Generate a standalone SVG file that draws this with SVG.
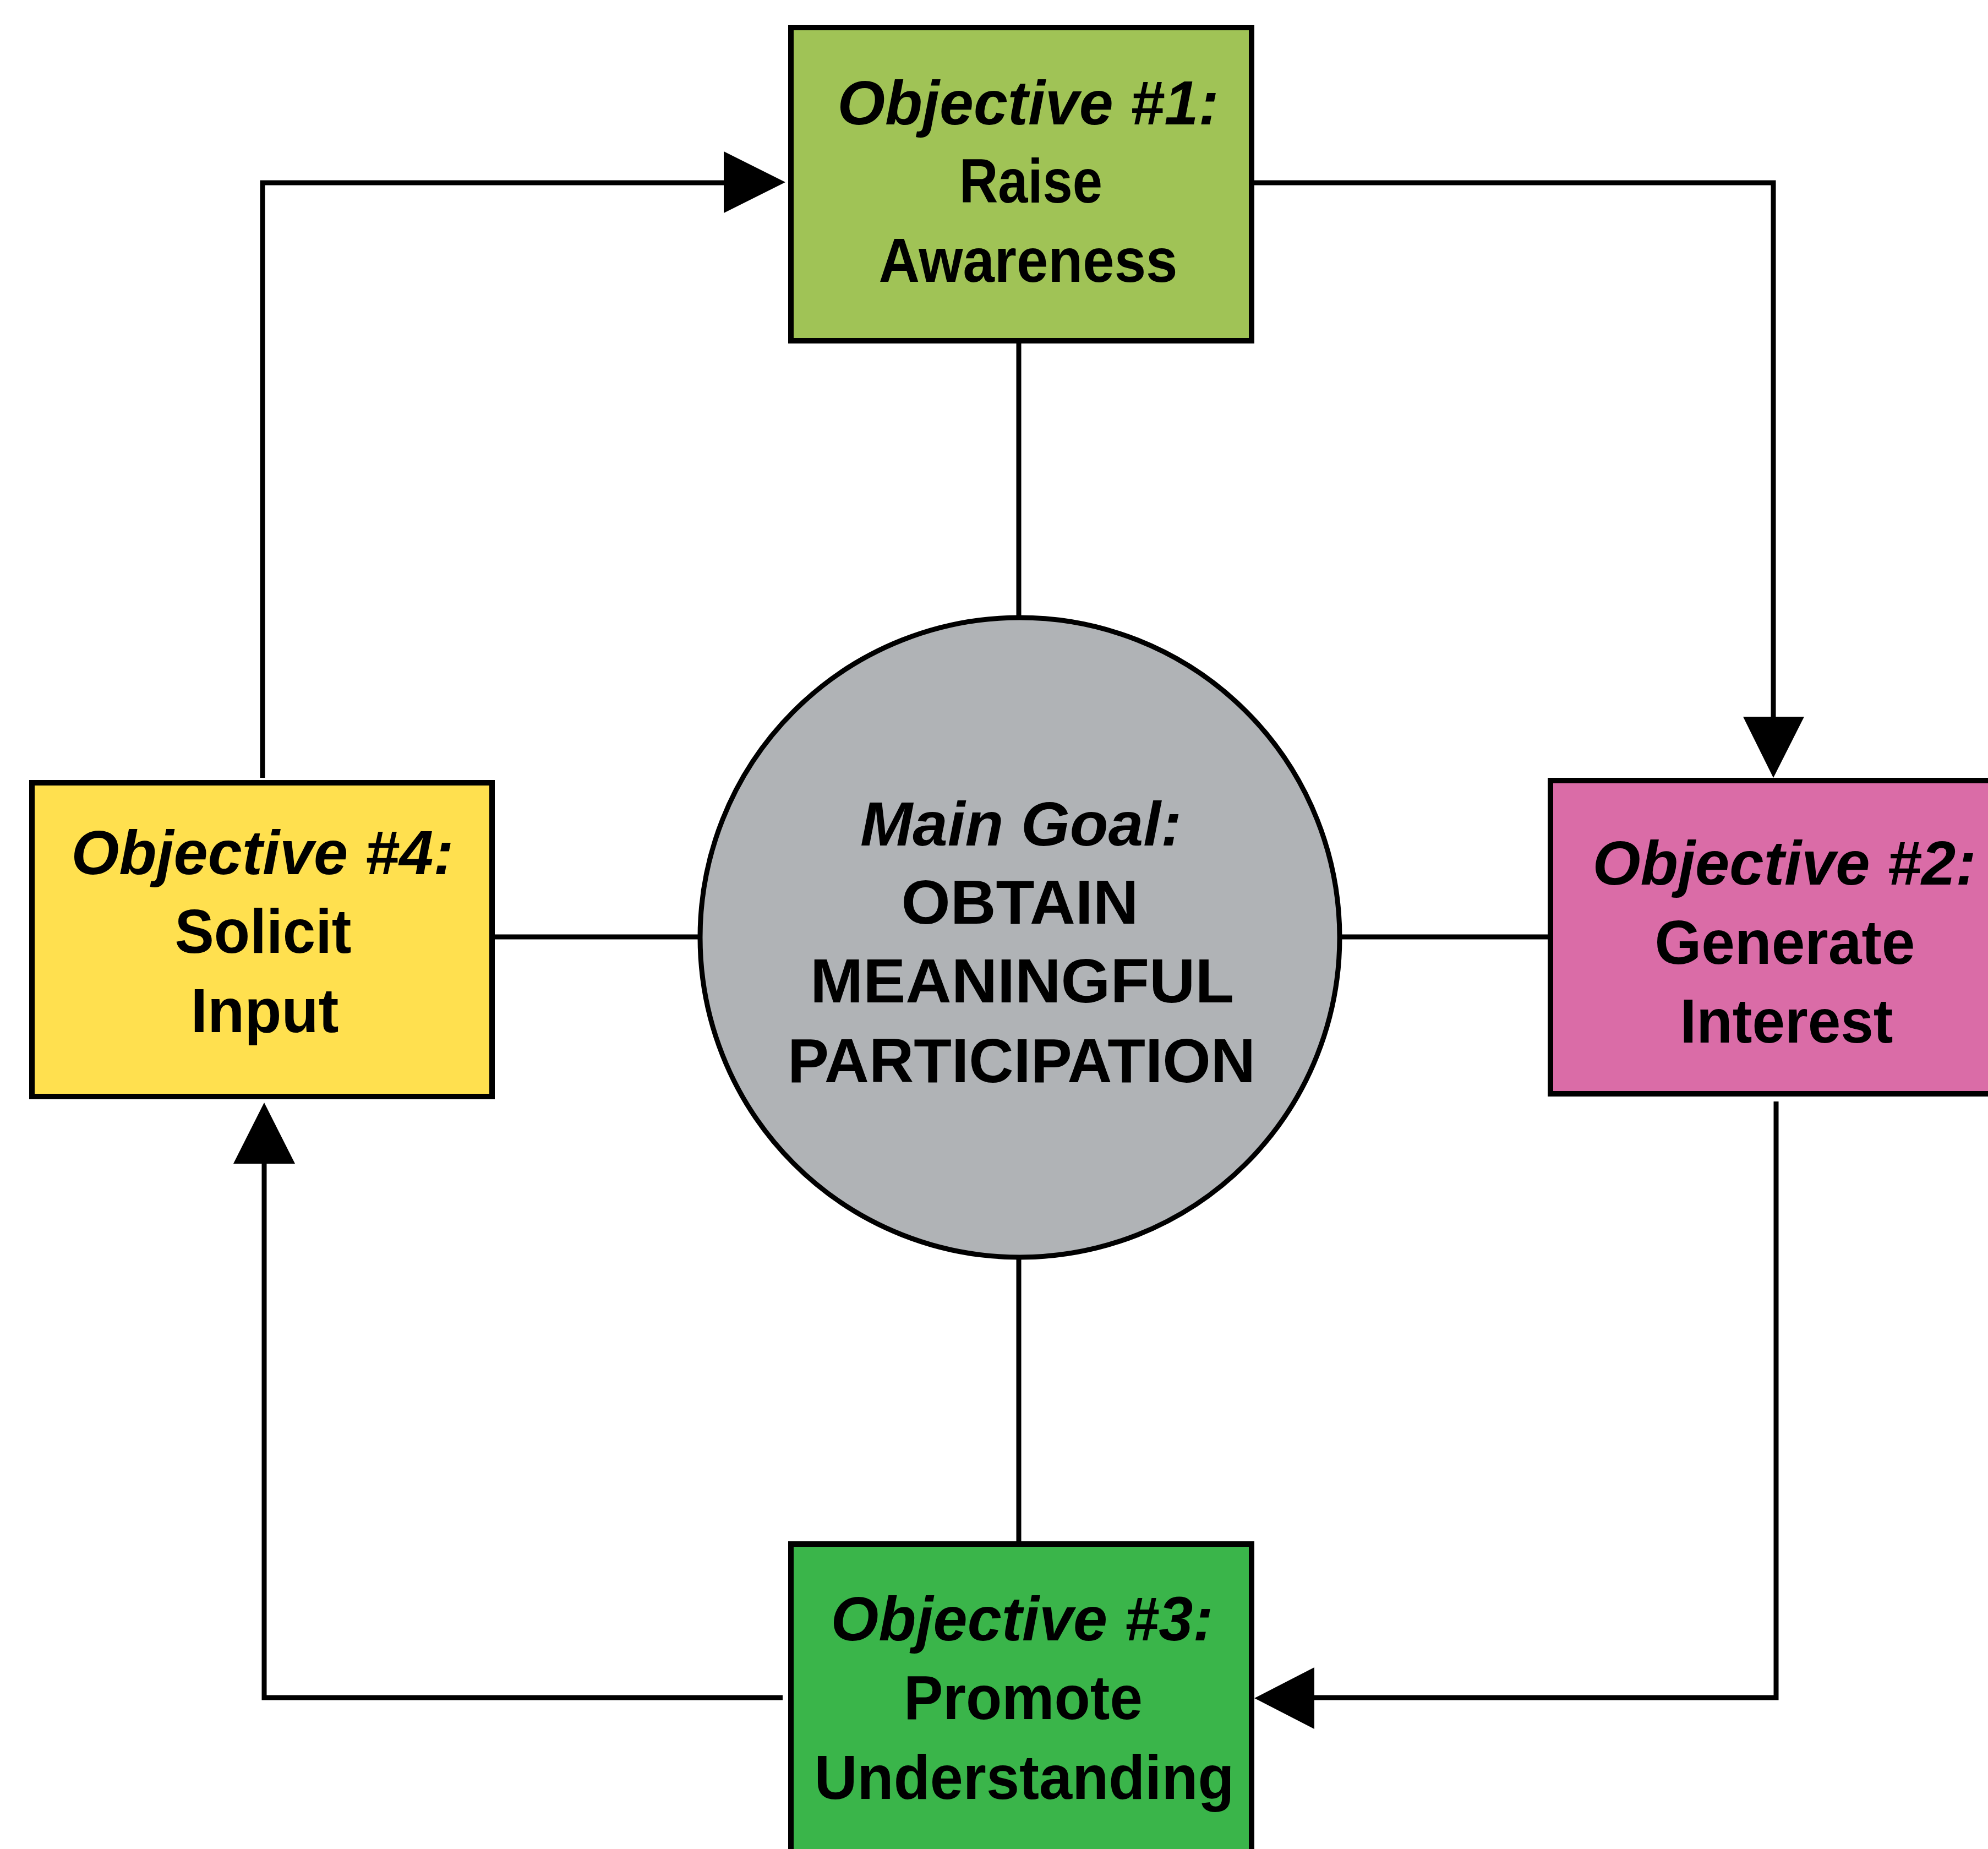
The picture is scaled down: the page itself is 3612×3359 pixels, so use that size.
<svg xmlns="http://www.w3.org/2000/svg" width="3612" height="3359" viewBox="0 0 3612 3359">
<style>
.box{stroke:#000;stroke-width:10}
.goal{fill:#B0B3B6;stroke:#000;stroke-width:9}
.line{fill:none;stroke:#000;stroke-width:9;stroke-linecap:butt}
.head{fill:#000}
text{font-family:"Liberation Sans",Arial,sans-serif;font-size:114px;font-weight:bold;fill:#000;text-anchor:middle}
.it{font-style:italic}
</style>
<rect width="3612" height="3359" fill="#fff"/>
<g id="connectors">
<path class="line" d="M477,1413 V332 H1318"/>
<polygon class="head" points="1315,275 1427,331 1315,387"/>
<path class="line" d="M2279,332 H3222 V1305"/>
<polygon class="head" points="3167,1302 3278,1302 3222,1413"/>
<path class="line" d="M3227,2001 V3084 H2385"/>
<polygon class="head" points="2388,3029 2279,3085 2388,3141"/>
<path class="line" d="M1422,3084 H480 V2111"/>
<polygon class="head" points="424,2114 536,2114 480,2003"/>
<path class="line" d="M1851,624 V1122"/>
<path class="line" d="M899,1702 H1273"/>
<path class="line" d="M2433,1702 H2813"/>
<path class="line" d="M1851,2284 V2800"/>
</g>
<g id="objective1">
<rect class="box" x="1437" y="50" width="837" height="569" fill="#A0C356"/>
<text class="it" x="1868" y="226" textLength="693" lengthAdjust="spacingAndGlyphs">Objective #1:</text>
<text x="1873" y="368" textLength="260" lengthAdjust="spacingAndGlyphs">Raise</text>
<text x="1868" y="512" textLength="543" lengthAdjust="spacingAndGlyphs">Awareness</text>
</g>
<g id="objective2">
<rect class="box" x="2817" y="1418" width="837" height="569" fill="#DA6CA7"/>
<text class="it" x="3242" y="1607" textLength="697" lengthAdjust="spacingAndGlyphs">Objective #2:</text>
<text x="3243" y="1751" textLength="473" lengthAdjust="spacingAndGlyphs">Generate</text>
<text x="3246" y="1894" textLength="387" lengthAdjust="spacingAndGlyphs">Interest</text>
</g>
<g id="objective3">
<rect class="box" x="1437" y="2805" width="837" height="569" fill="#3AB54A"/>
<text class="it" x="1857" y="2980" textLength="695" lengthAdjust="spacingAndGlyphs">Objective #3:</text>
<text x="1859" y="3123" textLength="434" lengthAdjust="spacingAndGlyphs">Promote</text>
<text x="1861" y="3268" textLength="763" lengthAdjust="spacingAndGlyphs">Understanding</text>
</g>
<g id="objective4">
<rect class="box" x="58" y="1422" width="836" height="570" fill="#FFE04F"/>
<text class="it" x="477" y="1588" textLength="695" lengthAdjust="spacingAndGlyphs">Objective #4:</text>
<text x="478" y="1731" textLength="321" lengthAdjust="spacingAndGlyphs">Solicit</text>
<text x="481" y="1875" textLength="269" lengthAdjust="spacingAndGlyphs">Input</text>
</g>
<g id="main-goal">
<circle class="goal" cx="1853" cy="1703" r="581"/>
<text class="it" x="1855" y="1536" textLength="584" lengthAdjust="spacingAndGlyphs">Main Goal:</text>
<text x="1853" y="1678" textLength="431" lengthAdjust="spacingAndGlyphs">OBTAIN</text>
<text x="1857" y="1821" textLength="770" lengthAdjust="spacingAndGlyphs">MEANINGFUL</text>
<text x="1856" y="1966" textLength="850" lengthAdjust="spacingAndGlyphs">PARTICIPATION</text>
</g>
</svg>
